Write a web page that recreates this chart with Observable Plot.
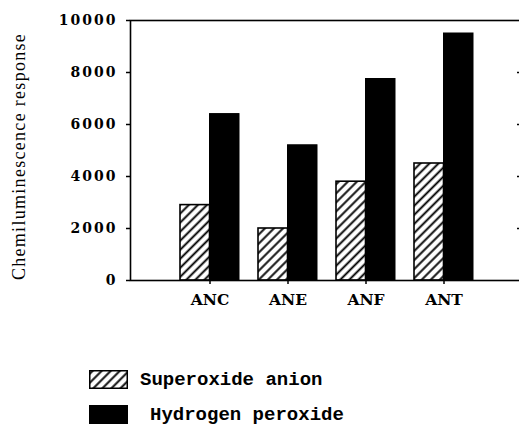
<!DOCTYPE html>
<html>
<head>
<meta charset="utf-8">
<script src="https://cdn.jsdelivr.net/npm/d3@7"></script>
<script src="https://cdn.jsdelivr.net/npm/@observablehq/plot@0.6"></script>
<style>
  html, body { margin: 0; padding: 0; background: #fff; overflow: hidden; }
  #wrap { width: 519px; height: 425px; overflow: hidden; position: relative; background: #fff; }
  #chart svg { display: block; overflow: hidden; }
  .legend { font-family: "Liberation Mono", "DejaVu Sans Mono", monospace; font-weight: bold; font-size: 19px; color: #000; padding-top: 40px; padding-left: 89px; }
  .row { display: flex; align-items: center; height: 19px; white-space: pre; }
  .row + .row { margin-top: 16px; }
  .row svg { display: block; flex: none; }
</style>
</head>
<body>
<div id="wrap">
  <div id="chart"></div>
  <div class="legend" id="legend"></div>
</div>
<script>
// ---- data ----
const categories = ["ANC", "ANE", "ANF", "ANT"];
const seriesNames = ["Superoxide anion", "Hydrogen peroxide"];
const superoxide = [2900, 2000, 3800, 4500];
const hydrogenPeroxide = [6400, 5200, 7750, 9500];
const yTicks = [0, 2000, 4000, 6000, 8000, 10000];
const yTicksRight = [2000, 4000, 6000, 8000];
const yLabel = "Chemiluminescence response";

const supData = categories.map((c, i) => ({category: c, series: seriesNames[0], value: superoxide[i]}));
const hpData = categories.map((c, i) => ({category: c, series: seriesNames[1], value: hydrogenPeroxide[i]}));

const tickFont = {fontFamily: "DejaVu Serif", fontWeight: "bold"};

const plot = Plot.plot({
  width: 519,
  height: 330,
  marginTop: 20,
  marginLeft: 130,
  marginRight: -2,
  marginBottom: 50,
  style: {background: "white", color: "black", overflow: "hidden"},
  x: {domain: categories, range: [131, 521], paddingInner: 0.244, paddingOuter: 0.622},
  y: {domain: [0, 10000]},
  marks: [
    Plot.barY(hpData, {x: "category", y: "value", fill: "black", stroke: "black", strokeWidth: 1, insetLeft: 29.5}),
    Plot.barY(supData, {x: "category", y: "value", fill: "url(#hatch)", stroke: "black", strokeWidth: 1.6, insetRight: 29.5}),
    Plot.frame({stroke: "black", strokeWidth: 1.6}),
    Plot.axisY({ticks: yTicks, tickSize: 4, tickPadding: 9, tickFormat: d => String(d), fontSize: 14, label: null, strokeWidth: 1.5, ...tickFont}),
    Plot.axisY({anchor: "right", ticks: yTicksRight, tickSize: -5, tickFormat: () => "", label: null, strokeWidth: 1.5}),
    Plot.axisX({tickSize: 4, tickPadding: 9, fontSize: 15.5, label: null, strokeWidth: 1.5, ...tickFont}),
    Plot.text([yLabel], {frameAnchor: "left", rotate: -90, textAnchor: "middle", dx: -111, dy: 6, fontFamily: "Liberation Serif", fontSize: 18, fill: "black"})
  ]
});

const ns = "http://www.w3.org/2000/svg";
function makeHatch(svg, id) {
  const s = 6.4;
  const defs = document.createElementNS(ns, "defs");
  const pat = document.createElementNS(ns, "pattern");
  pat.setAttribute("id", id);
  pat.setAttribute("patternUnits", "userSpaceOnUse");
  pat.setAttribute("width", s);
  pat.setAttribute("height", s);
  pat.setAttribute("patternTransform", "rotate(45)");
  const bg = document.createElementNS(ns, "rect");
  bg.setAttribute("width", s); bg.setAttribute("height", s); bg.setAttribute("fill", "white");
  const ln = document.createElementNS(ns, "line");
  ln.setAttribute("x1", s / 2); ln.setAttribute("x2", s / 2);
  ln.setAttribute("y1", "-1"); ln.setAttribute("y2", s + 1);
  ln.setAttribute("stroke", "black"); ln.setAttribute("stroke-width", "1.9");
  pat.appendChild(bg); pat.appendChild(ln);
  defs.appendChild(pat);
  svg.insertBefore(defs, svg.firstChild);
}
makeHatch(plot, "hatch");

// letter spacing for y tick labels and axis label
plot.querySelectorAll('[aria-label="y-axis tick label"] text').forEach(t => t.style.letterSpacing = "2px");
plot.querySelectorAll('[aria-label="text"] text').forEach(t => t.style.letterSpacing = "1.3px");

document.getElementById("chart").appendChild(plot);

// ---- legend ----
const legend = document.getElementById("legend");
seriesNames.forEach((name, i) => {
  const row = document.createElement("div");
  row.className = "row";
  const sw = document.createElementNS(ns, "svg");
  sw.setAttribute("width", "39"); sw.setAttribute("height", "19");
  if (i === 0) makeHatch(sw, "hatchLegend");
  const r = document.createElementNS(ns, "rect");
  r.setAttribute("x", "0.75"); r.setAttribute("y", "0.75");
  r.setAttribute("width", "37.5"); r.setAttribute("height", "17.5");
  r.setAttribute("fill", i === 0 ? "url(#hatchLegend)" : "black");
  r.setAttribute("stroke", "black"); r.setAttribute("stroke-width", "1.5");
  sw.appendChild(r);
  row.appendChild(sw);
  const label = document.createElement("span");
  label.textContent = name;
  label.style.marginLeft = i === 0 ? "12px" : "22px";
  row.appendChild(label);
  legend.appendChild(row);
});
</script>
</body>
</html>
